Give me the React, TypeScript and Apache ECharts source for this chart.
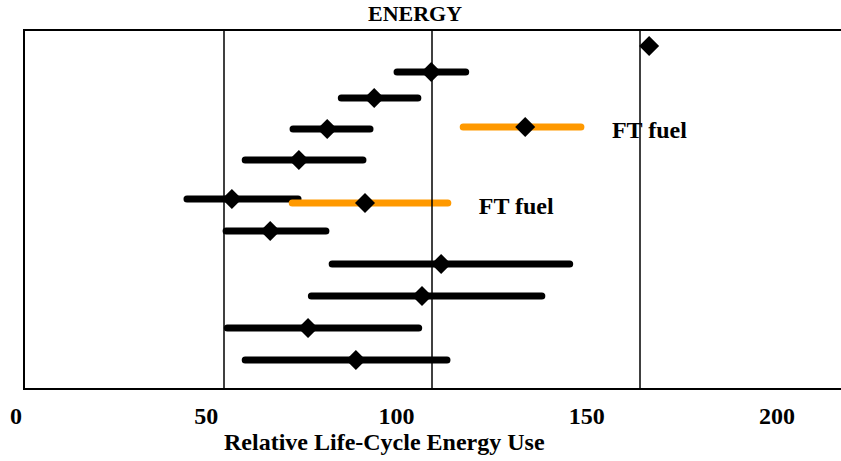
import React, { useEffect, useRef } from "react";
import * as echarts from "echarts";

// Baseline fuels (black): vertical position, central estimate, range
const baseY = [10.51, 9.71, 8.92, 7.97, 7.02, 5.82, 4.84, 3.83, 2.85, 1.87, 0.89];
const baseMid = [152.2, 99.8, 86.1, 74.8, 68.0, 51.9, 61.1, 102.2, 97.6, 70.2, 81.7];
const baseLow: (number | null)[] = [null, 91.6, 78.2, 66.6, 55.1, 41.1, 50.5, 76.0, 71.0, 50.8, 55.1];
const baseHigh: (number | null)[] = [null, 108.1, 96.6, 85.1, 83.4, 67.8, 74.5, 133.1, 126.4, 96.8, 103.6];

// FT fuel (orange)
const ftY = [8.03, 5.7];
const ftMid = [122.4, 83.9];
const ftLow = [107.5, 66.4];
const ftHigh = [135.8, 103.8];
const ftLabel = "FT fuel";

// Reference lines and tick labels
const refLines = [50, 100, 150];
const tickLabels = [0, 50, 100, 150, 200];

const FONT = '"Liberation Serif", "Times New Roman", serif';

export default function App() {
  const ref = useRef<HTMLDivElement>(null);

  useEffect(() => {
    if (!ref.current) return;
    const chart = echarts.init(ref.current, null, { renderer: "svg" });

    const gridWidth = 825;
    const barData = baseMid
      .map((m, i) => [m, baseLow[i], baseHigh[i], baseY[i]])
      .filter((d) => d[1] != null);
    const ftData = ftMid.map((m, i) => [m, ftLow[i], ftHigh[i], ftY[i]]);
    const diamonds = [
      ...baseMid.map((m, i) => [m, baseY[i]]),
      ...ftMid.map((m, i) => [m, ftY[i]]),
    ];

    chart.setOption({
      animation: false,
      backgroundColor: "#ffffff",
      title: [
        {
          text: "ENERGY",
          left: 368,
          top: 2,
          padding: 0,
          textStyle: { fontFamily: FONT, fontWeight: "bold", fontSize: 22, color: "#000" },
        },
        {
          text: "Relative Life-Cycle Energy Use",
          left: 224,
          top: 430,
          padding: 0,
          textStyle: { fontFamily: FONT, fontWeight: "bold", fontSize: 24, color: "#000" },
        },
      ],
      grid: { left: 16, top: 30, width: gridWidth, bottom: 72, containLabel: false },
      xAxis: [
        {
          type: "value",
          min: 0,
          max: gridWidth / 4.16,
          axisLine: { show: false },
          axisTick: { show: false },
          axisLabel: { show: false },
          splitLine: { show: false },
        },
        {
          type: "value",
          position: "bottom",
          offset: 0,
          min: 0,
          max: gridWidth / 3.805,
          interval: 50,
          axisLine: { show: false },
          axisTick: { show: false },
          splitLine: { show: false },
          axisLabel: {
            margin: 15,
            showMaxLabel: false,
            fontFamily: FONT,
            fontWeight: "bold",
            fontSize: 24,
            color: "#000",
            formatter: (v: number) => (tickLabels.includes(v) ? String(v) : ""),
          },
        },
      ],
      yAxis: {
        type: "value",
        min: 0,
        max: 11,
        show: false,
      },
      graphic: [
        {
          type: "rect",
          shape: { x: 24, y: 30, width: 860, height: 359 },
          style: { fill: "none", stroke: "#000", lineWidth: 2 },
          z: 1,
        },
      ],
      series: [
        {
          type: "custom",
          xAxisIndex: 0,
          z: 2,
          data: barData,
          encode: { x: [1, 2], y: 3 },
          renderItem: (params: any, api: any) => {
            const a = api.coord([api.value(1), api.value(3)]);
            const b = api.coord([api.value(2), api.value(3)]);
            return {
              type: "line",
              shape: { x1: a[0], y1: a[1], x2: b[0], y2: b[1] },
              style: { stroke: "#000", lineWidth: 7, lineCap: "round" },
            };
          },
          markLine: {
            silent: true,
            symbol: "none",
            label: { show: false },
            lineStyle: { color: "#000", width: 1.5, type: "solid" },
            data: refLines.map((v) => ({ xAxis: v })),
          },
        },
        {
          type: "custom",
          xAxisIndex: 0,
          z: 3,
          data: ftData,
          encode: { x: [1, 2], y: 3 },
          renderItem: (params: any, api: any) => {
            const a = api.coord([api.value(1), api.value(3)]);
            const b = api.coord([api.value(2), api.value(3)]);
            return {
              type: "group",
              children: [
                {
                  type: "line",
                  shape: { x1: a[0], y1: a[1], x2: b[0], y2: b[1] },
                  style: { stroke: "#ff9900", lineWidth: 7, lineCap: "round" },
                },
                {
                  type: "text",
                  style: {
                    text: ftLabel,
                    x: b[0] + 27,
                    y: b[1] + 3,
                    align: "left",
                    verticalAlign: "middle",
                    fill: "#000",
                    font: `bold 24px ${FONT}`,
                    backgroundColor: "#ffffff",
                    padding: [11, 4],
                  },
                },
              ],
            };
          },
        },
        {
          type: "scatter",
          xAxisIndex: 0,
          z: 4,
          symbol: "diamond",
          symbolSize: [20, 20],
          itemStyle: { color: "#000", opacity: 1 },
          data: diamonds,
        },
      ],
    });

    return () => chart.dispose();
  }, []);

  return (
    <div
      ref={ref}
      style={{ position: "fixed", left: 0, top: 0, width: 841, height: 461 }}
    />
  );
}
